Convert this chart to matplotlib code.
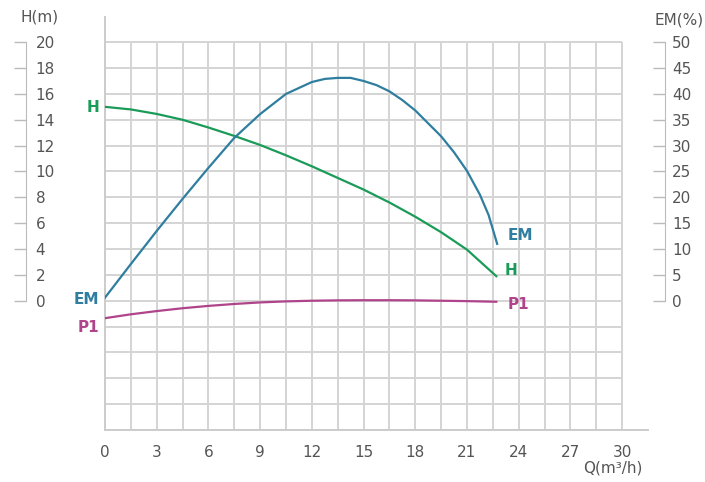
import numpy as np
import matplotlib.pyplot as plt

caudal_h = [0, 1.5, 3, 4.5, 6, 7.5, 9, 10.5, 12, 13.5, 15, 16.5, 18, 19.5, 21, 22.7]
altura_h = [15.0, 14.8, 14.45, 14.0, 13.4, 12.75, 12.05, 11.25, 10.4, 9.5, 8.6, 7.6, 6.5, 5.3, 3.95, 1.9]

caudal_em = [0, 1.5, 3, 4.5, 6, 7.5, 9, 10.5, 12, 12.75, 13.5, 14.25, 15, 15.75,
             16.5, 17.25, 18, 19.5, 20.25, 21, 21.75, 22.25, 22.75]
eficiencia = [0.6, 7.1, 13.5, 19.7, 25.7, 31.5, 36.1, 40.0, 42.3, 42.9, 43.1, 43.1, 42.5, 41.7,
              40.5, 38.8, 36.8, 31.8, 28.7, 25.1, 20.5, 16.6, 11.0]

caudal_p1 = [0, 1.5, 3, 4.5, 6, 7.5, 9, 10.5, 12, 13.5, 15, 16.5, 18, 19.5, 21, 22.7]
potencia_p1 = [-1.35, -1.05, -0.8, -0.58, -0.4, -0.25, -0.13, -0.05, 0.0, 0.03, 0.04, 0.04, 0.03, 0.0, -0.03, -0.08]

ticks_q = list(range(0, 31, 3))
ticks_h = list(range(0, 21, 2))
ticks_em = list(range(0, 51, 5))

VERDE = '#1a9b58'
AZUL = '#2f7ea0'
MAGENTA = '#b0448a'
GRIS = '#555555'
GRID = '#d4d4d4'

plt.rcParams['font.family'] = ['DejaVu Sans']

fig = plt.figure(figsize=(7.05, 4.82), dpi=100)
ax = fig.add_axes([105 / 705, 52 / 482, 543 / 705, 413 / 482])
ax.set_xlim(0, 31.5)
ax.set_ylim(-10, 21.95)

# Rejilla solo dentro del área 0-30 / -10-20
ax.vlines(np.arange(0, 30.01, 1.5), -10, 20, color=GRID, lw=1.4, zorder=0)
ax.hlines(np.arange(-10, 20.01, 2), 0, 30, color=GRID, lw=1.4, zorder=0)

for lado in ['top', 'right']:
    ax.spines[lado].set_visible(False)
for lado in ['left', 'bottom']:
    ax.spines[lado].set_color('#cccccc')
    ax.spines[lado].set_linewidth(1.4)

ax.set_yticks([])
ax.set_xticks(ticks_q)
ax.tick_params(axis='x', length=0, pad=11, labelsize=11, labelcolor=GRIS)

# Curvas
ax.plot(caudal_h, altura_h, color=VERDE, lw=1.6, zorder=3)
ax.plot(caudal_p1, potencia_p1, color=MAGENTA, lw=1.6, zorder=3)

# Eje H(m) a la izquierda
ax_h = ax.twinx()
ax_h.set_ylim(-10, 21.95)
ax_h.spines['right'].set_position(('axes', (26 - 105) / 543))
ax_h.spines['right'].set_bounds(0, 20)
ax_h.spines['right'].set_color('#bbbbbb')
for lado in ['top', 'left', 'bottom']:
    ax_h.spines[lado].set_visible(False)
ax_h.set_yticks(ticks_h)
ax_h.tick_params(axis='y', direction='in', length=9, width=1, color='#bbbbbb',
                 pad=7, labelsize=11, labelcolor=GRIS)

# Eje EM(%) a la derecha
ax_em = ax.twinx()
ax_em.set_ylim(-25, 21.95 * 2.5)
ax_em.spines['right'].set_position(('axes', (665 - 105) / 543))
ax_em.spines['right'].set_bounds(0, 50)
ax_em.spines['right'].set_color('#bbbbbb')
for lado in ['top', 'left', 'bottom']:
    ax_em.spines[lado].set_visible(False)
ax_em.set_yticks(ticks_em)
ax_em.tick_params(axis='y', direction='in', length=9, width=1, color='#bbbbbb',
                  pad=5, labelsize=11, labelcolor=GRIS)
ax_em.plot(caudal_em, eficiencia, color=AZUL, lw=1.6, zorder=3)

# Títulos de ejes
fig.text(20 / 705, 1 - 17 / 482, 'H(m)', fontsize=11, color=GRIS, ha='left', va='center')
fig.text(704 / 705, 1 - 20 / 482, 'EM(%)', fontsize=11, color=GRIS, ha='right', va='center')
fig.text(643 / 705, 1 - 468 / 482, 'Q(m³/h)', fontsize=11, color=GRIS, ha='right', va='center')

# Etiquetas de curvas
estilo = dict(textcoords='offset pixels', fontsize=11, fontweight='bold', va='center')
ax.annotate('H', (caudal_h[0], altura_h[0]), xytext=(-6, -1), ha='right', color=VERDE, **estilo)
ax.annotate('H', (caudal_h[-1], altura_h[-1]), xytext=(8, 6), ha='left', color=VERDE, **estilo)
ax_em.annotate('EM', (caudal_em[0], eficiencia[0]), xytext=(-6, -2), ha='right', color=AZUL, **estilo)
ax_em.annotate('EM', (caudal_em[-1], eficiencia[-1]), xytext=(10, 8), ha='left', color=AZUL, **estilo)
ax.annotate('P1', (caudal_p1[0], potencia_p1[0]), xytext=(-6, -9), ha='right', color=MAGENTA, **estilo)
ax.annotate('P1', (caudal_p1[-1], potencia_p1[-1]), xytext=(11, -3), ha='left', color=MAGENTA, **estilo)

fig.savefig('out.png', dpi=100)
